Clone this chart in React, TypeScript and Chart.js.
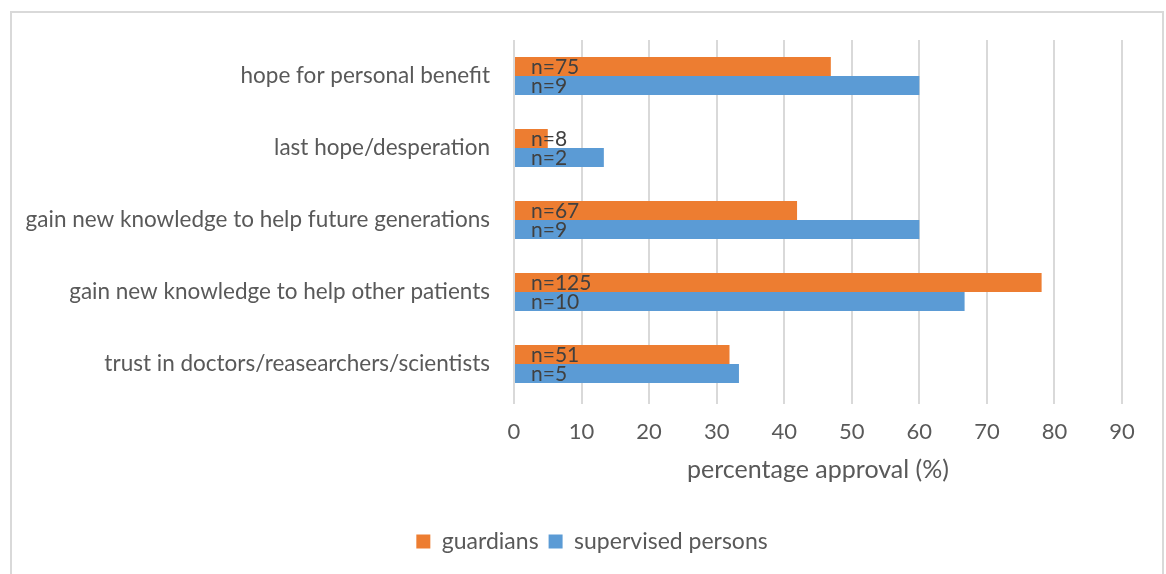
import React, { useEffect, useRef } from "react";
import { Chart, registerables } from "chart.js";

Chart.register(...registerables);

const categories = [
  "hope for personal benefit",
  "last hope/desperation",
  "gain new knowledge to help future generations",
  "gain new knowledge to help other patients",
  "trust in doctors/reasearchers/scientists",
];
const guardiansPct = [46.9, 5.0, 41.9, 78.1, 31.9];
const supervisedPct = [60.0, 13.3, 60.0, 66.7, 33.3];
const guardiansN = [75, 8, 67, 125, 51];
const supervisedN = [9, 2, 9, 10, 5];
const seriesNames = ["guardians", "supervised persons"];
const xTicks = [0, 10, 20, 30, 40, 50, 60, 70, 80, 90];
const axisTitle = "percentage approval (%)";

const FONT = "Lato, Calibri, 'Open Sans', sans-serif";
const W = 1166;
const H = 574;

const borderPlugin = {
  id: "frameBorder",
  beforeDraw(chart: any) {
    const ctx = chart.ctx;
    ctx.save();
    ctx.fillStyle = "#ffffff";
    ctx.fillRect(0, 0, chart.width, chart.height);
    ctx.strokeStyle = "#d9d9d9";
    ctx.lineWidth = 2;
    ctx.strokeRect(11, 12, 1152, 620);
    ctx.restore();
  },
};

const legendShift = {
  id: "legendShift",
  afterLayout(chart: any) {
    const lg = chart.legend;
    if (lg) {
      lg.left = 20;
      lg.right = 1164;
      lg.width = lg.right - lg.left;
    }
  },
};

const labelPlugin = {
  id: "nLabels",
  afterDatasetsDraw(chart: any) {
    const ctx = chart.ctx;
    const counts = [guardiansN, supervisedN];
    ctx.save();
    ctx.font = `21px ${FONT}`;
    ctx.fillStyle = "#404040";
    ctx.textAlign = "left";
    ctx.textBaseline = "middle";
    chart.data.datasets.forEach((_ds: any, di: number) => {
      const meta = chart.getDatasetMeta(di);
      meta.data.forEach((bar: any, i: number) => {
        ctx.fillText(`n=${counts[di][i]}`, bar.base + 16, bar.y + 1);
      });
    });
    ctx.restore();
  },
};

export default function App() {
  const ref = useRef<HTMLCanvasElement | null>(null);
  useEffect(() => {
    if (!ref.current) return;
    const chart = new Chart(ref.current, {
      type: "bar",
      data: {
        labels: categories,
        datasets: [
          {
            label: seriesNames[0],
            data: guardiansPct,
            backgroundColor: "#ED7D31",
            categoryPercentage: 0.53,
            barPercentage: 1.0,
          },
          {
            label: seriesNames[1],
            data: supervisedPct,
            backgroundColor: "#5B9BD5",
            categoryPercentage: 0.53,
            barPercentage: 1.0,
          },
        ],
      },
      options: {
        indexAxis: "y",
        responsive: false,
        animation: false,
        layout: { padding: { top: 40, left: 0, right: 44, bottom: 11 } },
        plugins: {
          legend: {
            position: "bottom",
            labels: {
              font: { family: FONT, size: 23 },
              color: "#595959",
              boxWidth: 14,
              boxHeight: 14,
              padding: 10,
            },
          },
          tooltip: { enabled: false },
        },
        scales: {
          x: {
            min: 0,
            max: 90,
            afterBuildTicks(scale: any) {
              scale.ticks = xTicks.map((v) => ({ value: v }));
            },
            afterFit(scale: any) {
              scale.height = 120;
            },
            grid: { color: "#d9d9d9", lineWidth: 2, drawTicks: true, tickLength: 4 },
            border: { display: false },
            ticks: {
              font: { family: FONT, size: 22 },
              color: "#595959",
              padding: 15,
              maxRotation: 0,
            },
            title: {
              display: true,
              text: axisTitle,
              font: { family: FONT, size: 25 },
              color: "#595959",
              padding: { top: 8, bottom: 35 },
            },
          },
          y: {
            afterFit(scale: any) {
              scale.width = 514;
            },
            grid: { display: false, drawTicks: false },
            border: { display: false },
            ticks: {
              font: { family: FONT, size: 22.5 },
              color: "#595959",
              padding: 24,
            },
          },
        },
      },
      plugins: [borderPlugin, legendShift, labelPlugin],
    } as any);
    return () => chart.destroy();
  }, []);
  return (
    <div style={{ position: "fixed", left: 0, top: 0, width: W, height: H, background: "#fff" }}>
      <canvas ref={ref} width={W} height={H} style={{ display: "block", width: W, height: H }} />
    </div>
  );
}
